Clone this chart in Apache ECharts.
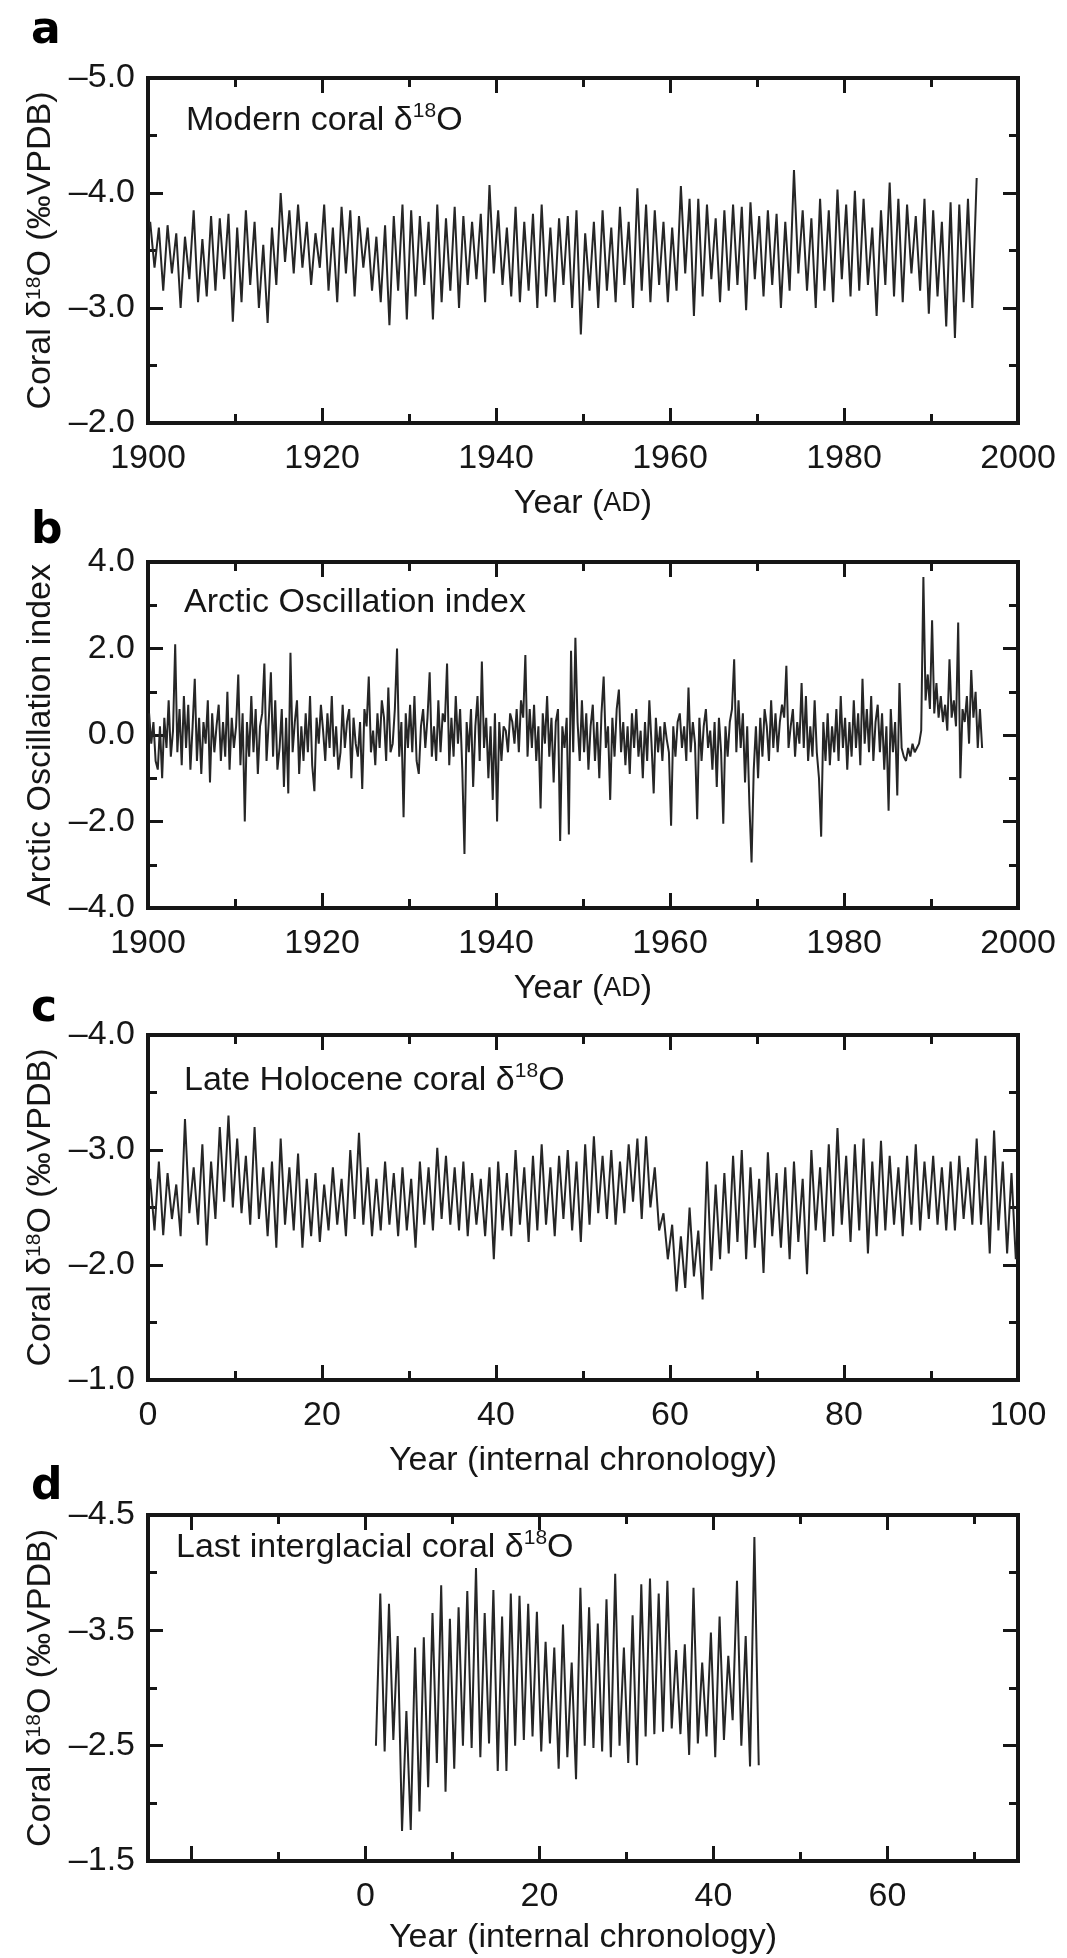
<!DOCTYPE html>
<html>
<head>
<meta charset="utf-8">
<script src="https://cdn.jsdelivr.net/npm/echarts@6/dist/echarts.min.js"></script>
<style>
html,body{margin:0;padding:0;background:#fff;}
#chart{width:1067px;height:1958px;}
</style>
</head>
<body>
<div id="chart"></div>
<script>
// ---------- DATA ----------
// Panel a: modern coral d18O, seasonal peak/trough pairs, 1900-1995
const aStart = 1900.25, aStep = 0.5;
const aValues = [
-3.75,-3.35, -3.70,-3.15, -3.72,-3.30, -3.65,-3.00, -3.62,-3.25,
-3.85,-3.05, -3.60,-3.10, -3.80,-3.15, -3.78,-3.25, -3.82,-2.88,
-3.70,-3.05, -3.85,-3.20, -3.75,-3.00, -3.55,-2.87, -3.70,-3.20,
-4.00,-3.40, -3.85,-3.30, -3.90,-3.35, -3.75,-3.20, -3.65,-3.35,
-3.90,-3.15, -3.70,-3.05, -3.88,-3.30, -3.85,-3.10, -3.80,-3.35,
-3.70,-3.15, -3.62,-3.05, -3.72,-2.85, -3.80,-3.15, -3.90,-2.90,
-3.85,-3.10, -3.80,-3.20, -3.75,-2.90, -3.90,-3.05, -3.78,-3.15,
-3.88,-3.00, -3.80,-3.20, -3.75,-3.25, -3.82,-3.05, -4.07,-3.30,
-3.85,-3.20, -3.70,-3.10, -3.88,-3.05, -3.75,-3.15, -3.82,-3.00,
-3.90,-3.10, -3.70,-3.05, -3.78,-3.20, -3.80,-3.00, -3.85,-2.77,
-3.65,-3.15, -3.75,-3.00, -3.85,-3.15, -3.70,-3.05, -3.88,-3.20,
-3.75,-3.00, -4.04,-3.15, -3.90,-3.05, -3.85,-3.20, -3.75,-3.05,
-3.70,-3.15, -4.06,-3.30, -3.95,-2.93, -3.95,-3.10, -3.90,-3.25,
-3.78,-3.05, -3.85,-3.15, -3.90,-3.20, -3.88,-2.98, -3.92,-3.25,
-3.80,-3.10, -3.85,-3.20, -3.82,-3.00, -3.75,-3.15, -4.20,-3.30,
-3.85,-3.15, -3.78,-3.00, -3.95,-3.15, -3.85,-3.05, -4.03,-3.25,
-3.90,-3.10, -4.02,-3.15, -3.95,-3.20, -3.70,-2.93, -3.85,-3.20,
-4.09,-3.10, -3.95,-3.05, -3.90,-3.30, -3.80,-3.15, -3.95,-2.95,
-3.85,-3.10, -3.75,-2.84, -3.92,-2.74, -3.90,-3.05, -3.95,-3.00,
-4.13
];
// Panel b: Arctic Oscillation index, quarterly readings 1900-1995
const bStart = 1900.125, bStep = 0.25;
const bValues = [
 0.5,-0.2, 0.3,-0.6,   -0.8, 0.2,-1.0, 0.4,   -0.3, 0.8,-0.5, 0.1,    2.1,-0.4, 0.6,-0.7,
 0.9,-0.3, 0.7,-0.8,    0.2, 1.3,-0.6, 0.4,   -0.9, 0.3,-0.2, 0.8,   -1.1, 0.5,-0.4, 0.2,
 0.7,-0.6, 0.3,-0.5,    1.0,-0.8, 0.4,-0.3,    0.2, 1.4,-0.7, 0.5,   -2.0, 0.3,-0.5, 0.9,
-0.4, 0.6,-0.9, 0.2,    0.5, 1.65,-0.6, 0.3,   1.45,-0.5, 0.8,-0.8,  -0.3, 0.6,-1.2, 0.4,
-1.35, 1.9,-0.4, 0.3,   0.8,-0.9, 0.2,-0.6,    0.5,-0.4, 0.9,-0.7,   -1.3, 0.4,-0.2, 0.7,
 0.1,-0.6, 0.5,-0.3,    0.9,-0.5, 0.2,-0.8,   -0.4, 0.7,-0.3, 0.3,    0.6,-1.0, 0.4,-0.2,
-0.5, 0.3,-1.25, 0.6,   0.2, 1.35,-0.4, 0.1,  -0.7, 0.5,-0.3, 0.8,    0.4,-0.6, 1.1,-0.4,
-0.2, 0.6, 2.0,-0.5,    0.3,-1.9, 0.5,-0.3,    0.7,-0.4, 0.9,-0.6,   -0.9, 0.2, 0.6,-0.3,
 0.4, 1.45,-0.5, 0.2,  -0.6, 0.8,-0.4, 0.5,    0.3, 1.65,-0.7, 0.4,  -0.5, 0.9,-0.2, 0.6,
-0.8,-2.75, 0.3,-0.4,   0.6,-1.2, 0.2, 0.9,   -0.6, 1.7,-0.3, 0.4,   -1.0, 0.2,-1.5, 0.5,
-2.0, 0.3,-0.6, 0.2,    0.1,-0.4, 0.5, 0.3,   -0.2, 0.6,-0.4, 0.8,    0.4, 1.85,-0.5, 0.6,
-0.3, 0.7,-0.6, 0.2,   -1.7, 0.5,-0.2, 0.9,   -0.5, 0.4,-1.1, 0.3,    0.6,-2.45, 0.2,-0.3,
 0.4,-2.3, 1.95,-0.4,   2.25, 0.3,-0.6, 0.8,  -0.4, 0.5,-0.8, 0.2,    0.7,-0.6, 0.3,-1.0,
 0.5, 1.35,-0.3, 0.2,  -1.5, 0.4,-0.5, 0.6,    1.05,-0.4, 0.3,-0.7,   0.2,-0.9, 0.5,-0.3,
 0.6,-0.5, 0.1,-1.0,    0.3,-0.6, 0.8,-0.2,   -1.35, 0.4,-0.4, 0.2,  -0.6, 0.3,-0.1,-0.4,
-2.1, 0.2,-0.5, 0.3,    0.5,-0.3, 0.2,-0.6,    1.1,-0.4, 0.3,-0.2,   -1.95, 0.4,-0.6, 0.2,
 0.6,-0.3, 0.1,-0.8,    0.3,-1.2, 0.4,-0.4,   -2.05, 0.2,-0.5, 0.3,   0.6, 1.75,-0.4, 0.8,
-0.3, 0.5,-1.1, 0.2,   -1.6,-2.95,-0.8, 0.2,  -1.0, 0.4,-0.5, 0.6,    0.2,-0.6, 0.8,-0.3,
 0.5,-0.4, 0.3, 0.7,    0.4, 1.6,-0.3, 0.2,    0.6,-0.5, 0.3,-0.2,    1.2,-0.3, 0.9,-0.6,
 0.2,-0.5, 0.8,-0.4,   -1.0,-2.35, 0.3,-0.6,   0.5,-0.7, 0.2,-0.4,    0.6,-0.6, 0.9,-0.3,
 0.4,-0.8, 0.3,-0.5,    0.8,-0.3, 0.5,-0.7,    1.3,-0.2, 0.6,-0.4,    0.9,-0.6, 0.3, 0.7,
-0.4, 0.5,-0.8, 0.2,   -1.75, 0.6,-0.4, 0.3,  -1.4, 1.2,-0.3,-0.5,   -0.6,-0.3,-0.5,-0.2,
-0.4,-0.3,-0.2, 0.1,    3.65, 0.8, 1.4, 0.6,   2.65, 0.5, 1.2, 0.4,   0.9, 0.3, 0.7, 0.1,
 1.75, 0.4, 0.8, 0.2,   2.6,-1.0, 0.6, 0.3,    0.9,-0.2, 1.5, 0.4,    1.0,-0.3, 0.6,-0.3
];
// Panel c: late Holocene coral d18O, peak/trough pairs, years 0-99
const cStart = 0.25, cStep = 0.5;
const cValues = [
-2.75,-2.30, -2.90,-2.26, -2.80,-2.40, -2.70,-2.25, -3.27,-2.45,
-2.85,-2.35, -3.05,-2.17, -2.90,-2.40, -3.20,-2.55, -3.30,-2.50,
-3.10,-2.45, -2.95,-2.35, -3.20,-2.40, -2.85,-2.25, -2.90,-2.15,
-3.10,-2.35, -2.85,-2.30, -2.97,-2.15, -2.75,-2.25, -2.80,-2.20,
-2.70,-2.30, -2.85,-2.35, -2.75,-2.25, -3.00,-2.40, -3.15,-2.35,
-2.85,-2.25, -2.75,-2.30, -2.90,-2.35, -2.80,-2.25, -2.85,-2.30,
-2.75,-2.15, -2.90,-2.35, -2.85,-2.30, -3.02,-2.40, -2.95,-2.35,
-2.85,-2.30, -2.90,-2.25, -2.80,-2.35, -2.75,-2.25, -2.85,-2.05,
-2.90,-2.30, -2.80,-2.25, -3.00,-2.35, -2.85,-2.20, -2.95,-2.30,
-3.05,-2.35, -2.85,-2.25, -2.95,-2.40, -3.00,-2.30, -2.90,-2.20,
-3.05,-2.35, -3.12,-2.45, -2.95,-2.40, -3.00,-2.35, -2.90,-2.45,
-3.05,-2.55, -3.10,-2.40, -3.12,-2.50, -2.85,-2.30, -2.45,-2.05,
-2.35,-1.77, -2.25,-1.80, -2.50,-1.90, -2.30,-1.70, -2.90,-1.95,
-2.70,-2.05, -2.80,-2.10, -2.95,-2.20, -3.00,-2.05, -2.85,-2.15,
-2.75,-1.93, -2.98,-2.25, -2.80,-2.15, -2.85,-2.05, -2.90,-2.20,
-2.75,-1.92, -3.00,-2.30, -2.85,-2.20, -3.05,-2.25, -3.19,-2.35,
-2.95,-2.20, -3.05,-2.30, -3.10,-2.10, -2.90,-2.25, -3.08,-2.30,
-2.95,-2.35, -2.85,-2.25, -2.95,-2.35, -3.05,-2.30, -2.90,-2.40,
-2.95,-2.35, -2.85,-2.30, -2.90,-2.30, -2.95,-2.40, -2.85,-2.35,
-3.10,-2.35, -2.95,-2.10, -3.17,-2.30, -2.90,-2.10, -2.80,-2.05
];
// Panel d: last interglacial coral d18O, trough/peak pairs, years 1-45
const dStart = 1.2, dStep = 0.5;
const dValues = [
-2.50,-3.82, -2.45,-3.73, -2.55,-3.45, -1.76,-2.80, -1.77,-3.35,
-1.93,-3.44, -2.14,-3.65, -2.35,-3.89, -2.10,-3.60, -2.30,-3.70,
-2.50,-3.84, -2.48,-4.04, -2.40,-3.65, -2.52,-3.85, -2.28,-3.62,
-2.28,-3.82, -2.50,-3.80, -2.55,-3.73, -2.58,-3.66, -2.45,-3.40,
-2.52,-3.35, -2.30,-3.55, -2.40,-3.22, -2.21,-3.87, -2.50,-3.70,
-2.48,-3.56, -2.45,-3.77, -2.40,-3.99, -2.50,-3.35, -2.35,-3.63,
-2.33,-3.90, -2.58,-3.95, -2.60,-3.82, -2.62,-3.93, -2.65,-3.33,
-2.60,-3.38, -2.42,-3.87, -2.52,-3.22, -2.58,-3.48, -2.40,-3.62,
-2.55,-3.28, -2.72,-3.93, -2.50,-3.45, -2.32,-4.31,
-2.33
];

// Axis ticks
const aXLabels = [1900,1920,1940,1960,1980,2000];
const aXMajor  = [1920,1940,1960,1980];
const aXMinor  = [1910,1930,1950,1970,1990];
const aYLabels = [-5,-4,-3,-2];
const aYMinor  = [-4.5,-3.5,-2.5];

const bXLabels = aXLabels, bXMajor = aXMajor, bXMinor = aXMinor;
const bYLabels = [4,2,0,-2,-4];
const bYMinor  = [3,1,-1,-3];

const cXLabels = [0,20,40,60,80,100];
const cXMajor  = [20,40,60,80];
const cXMinor  = [10,30,50,70,90];
const cYLabels = [-4,-3,-2,-1];
const cYMinor  = [-3.5,-2.5,-1.5];

const dXLabels = [0,20,40,60];
const dXMajor  = [-20,0,20,40,60];
const dXMinor  = [-10,10,30,50,70];
const dYLabels = [-4.5,-3.5,-2.5,-1.5];
const dYMinor  = [-4,-3,-2];

// ---------- CHART ----------
const FONT = 'Liberation Sans';
const INK = '#161616';
const FS = 34;

function pairs(start, step, vals){ return vals.map((v,i)=>[start + i*step, v]); }
function yFmt(v){ return (v < 0 ? '\u2013' : '') + Math.abs(v).toFixed(1); }

const grids = [
  {left:148, top:78,   width:870, height:345},
  {left:148, top:562,  width:870, height:346},
  {left:148, top:1035, width:870, height:345},
  {left:148, top:1515, width:870, height:346}
].map(g => Object.assign(g, {show:true, borderColor:INK, borderWidth:4, backgroundColor:'transparent'}));

const richText = {
  sup:{fontSize:21, fontFamily:FONT, color:INK, verticalAlign:'top'},
  sc:{fontSize:27, fontFamily:FONT, color:INK}
};

const xAxes = [], yAxes = [];
function tickStyle(len){ return {show:true, inside:true, length:len, lineStyle:{width:3, color:INK}}; }
const noLine = {show:false, onZero:false};

function addX(gi, min, max, labels, major, minor, name, gap){
  const base = {type:'value', gridIndex:gi, min, max, axisLine:noLine, splitLine:{show:false}};
  xAxes.push(Object.assign({}, base, {
    position:'bottom',
    axisTick:Object.assign(tickStyle(15), {customValues:major}),
    axisLabel:{customValues:labels, margin:19, fontSize:FS, fontFamily:FONT, color:INK, formatter:v=>String(v)},
    name, nameLocation:'middle', nameGap:gap,
    nameTextStyle:{fontSize:FS, fontFamily:FONT, color:INK, rich:richText}
  }));
  xAxes.push(Object.assign({}, base, {position:'bottom', axisTick:Object.assign(tickStyle(9), {customValues:minor}), axisLabel:{show:false}}));
  xAxes.push(Object.assign({}, base, {position:'top', axisTick:Object.assign(tickStyle(15), {customValues:major}), axisLabel:{show:false}}));
  xAxes.push(Object.assign({}, base, {position:'top', axisTick:Object.assign(tickStyle(9), {customValues:minor}), axisLabel:{show:false}}));
}
function addY(gi, min, max, inverse, labels, minor, name){
  const base = {type:'value', gridIndex:gi, min, max, inverse, axisLine:noLine, splitLine:{show:false}};
  yAxes.push(Object.assign({}, base, {
    position:'left',
    axisTick:Object.assign(tickStyle(15), {customValues:labels}),
    axisLabel:{customValues:labels, margin:13, fontSize:FS, fontFamily:FONT, color:INK, formatter:yFmt},
    name, nameLocation:'middle', nameGap:85, nameRotate:90,
    nameTextStyle:{fontSize:FS, fontFamily:FONT, color:INK, rich:richText}
  }));
  yAxes.push(Object.assign({}, base, {position:'left', axisTick:Object.assign(tickStyle(9), {customValues:minor}), axisLabel:{show:false}}));
  yAxes.push(Object.assign({}, base, {position:'right', axisTick:Object.assign(tickStyle(15), {customValues:labels}), axisLabel:{show:false}}));
  yAxes.push(Object.assign({}, base, {position:'right', axisTick:Object.assign(tickStyle(9), {customValues:minor}), axisLabel:{show:false}}));
}

const coralName = 'Coral \u03b4{sup|18}O (\u2030VPDB)';
addX(0, 1900, 2000, aXLabels, aXMajor, aXMinor, 'Year ({sc|AD})', 64);
addY(0, -5, -2, true, aYLabels, aYMinor, coralName);
addX(1, 1900, 2000, bXLabels, bXMajor, bXMinor, 'Year ({sc|AD})', 64);
addY(1, -4, 4, false, bYLabels, bYMinor, 'Arctic Oscillation index');
addX(2, 0, 100, cXLabels, cXMajor, cXMinor, 'Year (internal chronology)', 64);
addY(2, -4, -1, true, cYLabels, cYMinor, coralName);
addX(3, -25, 75, dXLabels, dXMajor, dXMinor, 'Year (internal chronology)', 60);
addY(3, -4.5, -1.5, true, dYLabels, dYMinor, coralName);

const lineSeries = (gi, data) => ({
  type:'line', xAxisIndex:gi*4, yAxisIndex:gi*4, data,
  showSymbol:false, symbol:'none', smooth:false,
  lineStyle:{width:2, color:'#262626'}, animation:false, silent:true
});

const innerTitles = [
  {text:'Modern coral \u03b4{sup|18}O', left:186, top:101},
  {text:'Arctic Oscillation index', left:184, top:583},
  {text:'Late Holocene coral \u03b4{sup|18}O', left:184, top:1061},
  {text:'Last interglacial coral \u03b4{sup|18}O', left:176, top:1528}
].map(t => Object.assign(t, {padding:0, textStyle:{fontSize:FS, fontWeight:'normal', fontFamily:FONT, color:INK, lineHeight:40, rich:richText}}));

const panelLetters = [
  {text:'a', left:31, top:8},
  {text:'b', left:31, top:508},
  {text:'c', left:31, top:986},
  {text:'d', left:31, top:1464}
].map(t => Object.assign(t, {padding:0, textStyle:{fontSize:44, fontWeight:900, fontFamily:'DejaVu Sans', color:'#000', lineHeight:48}}));

const chart = echarts.init(document.getElementById('chart'), null, {renderer:'canvas'});
chart.setOption({
  animation:false,
  backgroundColor:'#ffffff',
  title: innerTitles.concat(panelLetters),
  grid: grids,
  xAxis: xAxes,
  yAxis: yAxes,
  series: [
    lineSeries(0, pairs(aStart, aStep, aValues)),
    lineSeries(1, pairs(bStart, bStep, bValues)),
    lineSeries(2, pairs(cStart, cStep, cValues)),
    lineSeries(3, pairs(dStart, dStep, dValues))
  ]
});
</script>
</body>
</html>
